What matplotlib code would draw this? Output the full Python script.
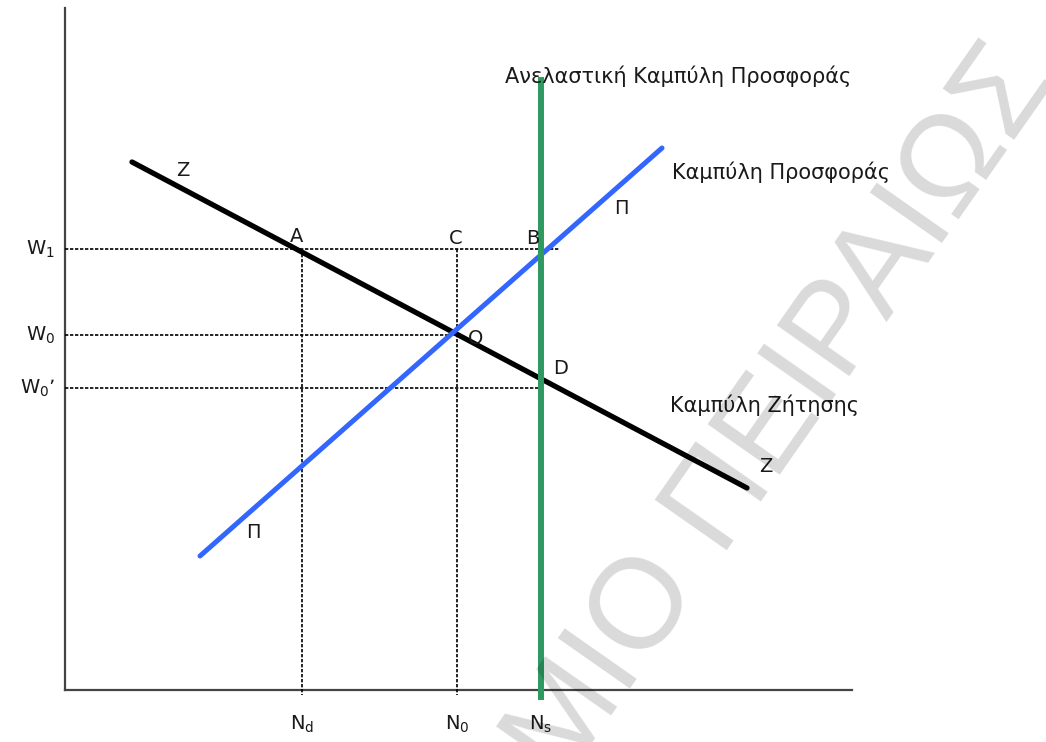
import matplotlib
matplotlib.use('Agg')
import matplotlib.pyplot as plt

# diagram coordinates (pixel-like units, y grows downward)
axis_origin = (65, 690)
x_axis_end = 852
y_axis_top = 8

demand_x = [132, 747]
demand_y = [162, 488]
supply_x = [200, 662]
supply_y = [556, 148]
inelastic_x = 541
inelastic_y = [80, 697]

w_levels = [249, 335, 388]
w_ends = [560, 457, 541]
w_labels = [r'$\mathregular{W_1}$', r'$\mathregular{W_0}$', r"$\mathregular{W_0}$’"]

n_levels = [302, 457, 541]
n_tops = [249, 249, None]
n_labels = [r'$\mathregular{N_d}$', r'$\mathregular{N_0}$', r'$\mathregular{N_s}$']

points = ['A', 'C', 'B', 'O', 'D']
points_x = [297, 456, 533, 476, 561]
points_y = [237, 238, 238, 338, 368]

curve_marks = ['Z', 'Z', 'Π', 'Π']
marks_x = [183, 766, 621, 253]
marks_y = [170, 467, 208, 532]

fig = plt.figure(figsize=(10.46, 7.42), dpi=100)
ax = fig.add_axes([0, 0, 1, 1])
ax.set_xlim(0, 1046)
ax.set_ylim(742, 0)
ax.axis('off')

txt = '#1a1a1a'
ox, oy = axis_origin
ax.plot([ox, ox], [y_axis_top, oy], color='#444444', lw=1.6)
ax.plot([ox, x_axis_end], [oy, oy], color='#444444', lw=1.6)

for y, xe, lab in zip(w_levels, w_ends, w_labels):
    ax.plot([ox, xe], [y, y], color='black', lw=1.2, ls=(0, (2, 1)))
    ax.text(ox - 10, y, lab, ha='right', va='center', fontsize=14, color=txt)

for x, top, lab in zip(n_levels, n_tops, n_labels):
    if top is not None:
        ax.plot([x, x], [top, oy + 5], color='black', lw=1.2, ls=(0, (2, 1)))
    ax.text(x, 724, lab, ha='center', va='center', fontsize=14, color=txt)

ax.plot(demand_x, demand_y, color='black', lw=3.8, solid_capstyle='round')
ax.plot(supply_x, supply_y, color='#3366ff', lw=3.6, solid_capstyle='round')
ax.plot([inelastic_x, inelastic_x], inelastic_y, color='#2e9a62', lw=4.3)

for p, x, y in zip(points, points_x, points_y):
    ax.text(x, y, p, ha='center', va='center', fontsize=14, color=txt)
for m, x, y in zip(curve_marks, marks_x, marks_y):
    ax.text(x, y, m, ha='center', va='center', fontsize=14, color=txt)

ax.text(505, 76, 'Ανελαστική Καμπύλη Προσφοράς', ha='left', va='center', fontsize=15, color=txt)
ax.text(672, 172, 'Καμπύλη Προσφοράς', ha='left', va='center', fontsize=15, color=txt)
ax.text(670, 405, 'Καμπύλη Ζήτησης', ha='left', va='center', fontsize=15, color=txt)

# watermark
ax.text(573, 713, 'ΠΑΝΕΠΙΣΤΗΜΙΟ ΠΕΙΡΑΙΩΣ', rotation=55, rotation_mode='anchor',
        ha='center', va='center', fontsize=92, color='black', alpha=0.15,
        family='Liberation Sans', zorder=10)

fig.savefig('out.png', dpi=100)
